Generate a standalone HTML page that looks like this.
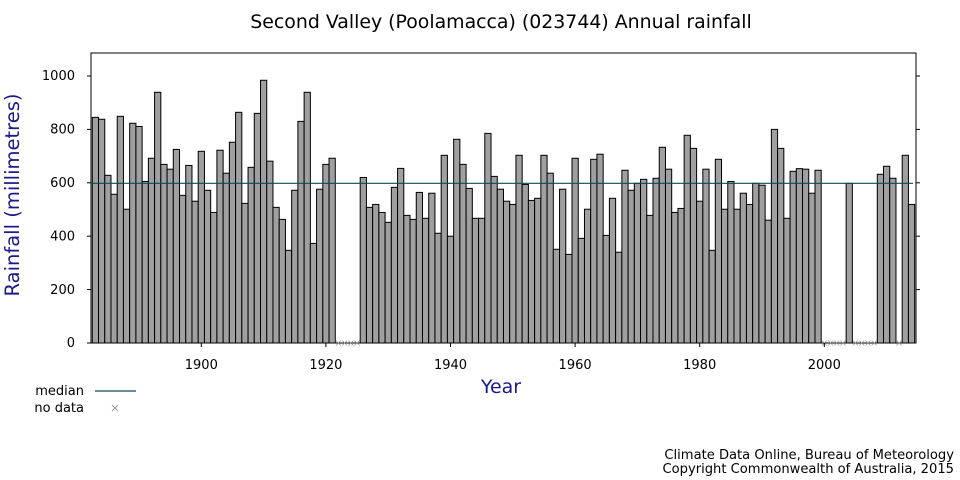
<!DOCTYPE html>
<html><head><meta charset="utf-8"><style>
html,body{margin:0;padding:0;background:#fff;width:960px;height:480px;overflow:hidden}
svg{display:block;font-family:"DejaVu Sans","Liberation Sans",sans-serif}
</style></head><body>
<svg id="s" width="960" height="480" xmlns="http://www.w3.org/2000/svg">
<text x="501" y="28" font-size="18.9" text-anchor="middle" fill="#000">Second Valley (Poolamacca) (023744) Annual rainfall</text>
<rect x="91" y="53" width="825" height="290" fill="none" stroke="#000" stroke-width="1"/>
<g id="bars"></g>
<line x1="91" y1="183.3" x2="913" y2="183.3" stroke="#0d4a60" stroke-width="1.2"/>
<g stroke="#000" stroke-width="1">
<line x1="87" y1="343" x2="91" y2="343"/><line x1="87" y1="289.6" x2="91" y2="289.6"/><line x1="87" y1="236.2" x2="91" y2="236.2"/><line x1="87" y1="182.8" x2="91" y2="182.8"/><line x1="87" y1="129.4" x2="91" y2="129.4"/><line x1="87" y1="76" x2="91" y2="76"/>
<line x1="916" y1="289.6" x2="920" y2="289.6"/><line x1="916" y1="236.2" x2="920" y2="236.2"/><line x1="916" y1="182.8" x2="920" y2="182.8"/><line x1="916" y1="129.4" x2="920" y2="129.4"/><line x1="916" y1="76" x2="920" y2="76"/>
<line x1="201.3" y1="343" x2="201.3" y2="347"/><line x1="325.9" y1="343" x2="325.9" y2="347"/><line x1="450.5" y1="343" x2="450.5" y2="347"/><line x1="575.1" y1="343" x2="575.1" y2="347"/><line x1="699.7" y1="343" x2="699.7" y2="347"/><line x1="824.3" y1="343" x2="824.3" y2="347"/>
</g>
<g font-size="13" fill="#000" text-anchor="end">
<text x="75" y="347">0</text><text x="75" y="294">200</text><text x="75" y="240.5">400</text><text x="75" y="187">600</text><text x="75" y="133.5">800</text><text x="75" y="80">1000</text>
</g>
<g font-size="13" fill="#000" text-anchor="middle">
<text x="201.3" y="369">1900</text><text x="325.9" y="369">1920</text><text x="450.5" y="369">1940</text><text x="575.1" y="369">1960</text><text x="699.7" y="369">1980</text><text x="824.3" y="369">2000</text>
</g>
<text x="501" y="393" font-size="19" fill="#1a1a8a" text-anchor="middle">Year</text>
<text transform="translate(19,195) rotate(-90)" font-size="19.5" fill="#1a1a8a" text-anchor="middle">Rainfall (millimetres)</text>
<text x="84" y="395" font-size="13" text-anchor="end">median</text>
<line x1="95" y1="391" x2="136" y2="391" stroke="#0d4a60" stroke-width="1.2"/>
<text x="84" y="412" font-size="13" text-anchor="end">no data</text>
<path d="M112 405 L118 411 M118 405 L112 411" stroke="#999" stroke-width="1"/>
<text x="954" y="459" font-size="13.1" text-anchor="end">Climate Data Online, Bureau of Meteorology</text>
<text x="954" y="473" font-size="13.1" text-anchor="end">Copyright Commonwealth of Australia, 2015</text>
</svg>
<script>
var v=[845,838,628,557,849,501,823,811,605,692,939,669,651,725,553,665,531,718,572,489,722,636,752,864,523,658,860,984,681,508,463,347,572,830,939,373,576,669,692,
null,null,null,null,
620,508,519,489,452,583,654,478,463,564,467,561,411,703,400,763,669,579,467,467,785,624,576,531,519,703,594,534,542,703,636,351,576,332,692,392,501,688,707,
403,542,340,647,572,598,613,478,617,733,651,489,504,778,729,531,651,347,688,501,605,501,561,519,598,591,460,800,729,467,643,653,651,561,647,
null,null,null,null,598,null,null,null,null,632,662,617,null,703,519];
var g=document.getElementById('bars'),h='';
for(var i=0;i<v.length;i++){var x=92.3+i*6.23;
if(v[i]==null){var c=x+3.1;h+='<path d="M'+(c-2.5)+' 340.5 L'+(c+2.5)+' 345.5 M'+(c+2.5)+' 340.5 L'+(c-2.5)+' 345.5" stroke="#999" stroke-width="0.8"/>';}
else{var y=343-v[i]*0.267;h+='<rect x="'+x.toFixed(2)+'" y="'+y.toFixed(2)+'" width="6.23" height="'+(343-y).toFixed(2)+'" fill="#a0a0a0" stroke="#000" stroke-width="1"/>';}}
g.innerHTML=h;
</script>
</body></html>
